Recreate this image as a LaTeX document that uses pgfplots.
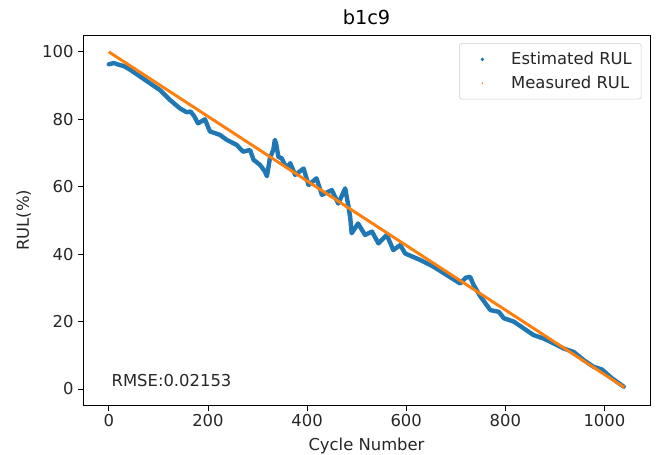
\documentclass[border=0pt]{standalone}
\usepackage{fontspec}
\setmainfont{DejaVu Sans}
\usepackage{pgfplots}
\pgfplotsset{compat=1.18}
\definecolor{mplblue}{HTML}{1F77B4}
\definecolor{mplorange}{HTML}{FF7F0E}
\begin{document}
\begin{tikzpicture}
\useasboundingbox (-62.25pt,-36.75pt) rectangle (430.25pt,304.25pt);
\begin{axis}[
  at={(0,0)}, anchor=south west,
  scale only axis, width=425pt, height=278pt,
  xmin=-52, xmax=1092, ymin=-5, ymax=105,
  xtick={0,200,400,600,800,1000},
  ytick={0,20,40,60,80,100},
  /pgf/number format/1000 sep={},
  tick align=outside, xtick pos=lower, ytick pos=left,
  major tick length=3.6pt,
  every tick/.style={black, line width=0.6pt},
  axis line style={black, line width=0.6pt},
  /pgf/number format/assume math mode=true,
  ticklabel style={font=\fontsize{12.3}{14}\selectfont, color=black!85},
  xticklabel style={yshift=1pt},
  xlabel={Cycle Number}, ylabel={RUL(\%)},
  label style={font=\fontsize{12.3}{14}\selectfont, color=black!85},
  xlabel style={yshift=-2pt},
  ylabel style={yshift=1.5pt},
  title={b1c9},
  title style={font=\fontsize{14.5}{16}\selectfont, yshift=-2pt},
  legend style={at={(0.985,0.978)}, anchor=north east, draw=black!20, rounded corners=2pt,
    font=\fontsize{12.3}{14}\selectfont, text=black!85, inner xsep=5pt, inner ysep=4.5pt,
    row sep=3pt},
  legend cell align=left,
]
\addlegendimage{legend image code/.code={\path[draw=none,fill=none] (0,-0.1cm) rectangle (1.12cm,0.1cm); \fill[mplblue, draw=none] (0.43cm,0cm) circle (1.4pt);}}
\addlegendentry{Estimated RUL}
\addlegendimage{legend image code/.code={\path[draw=none,fill=none] (0,-0.1cm) rectangle (1.12cm,0.1cm); \fill[mplorange, draw=none] (0.43cm,0cm) circle (0.7pt);}}
\addlegendentry{Measured RUL}
\addplot[forget plot, mplblue, line width=3.3pt, line cap=round, line join=round] coordinates {
(0,96.3) (10,96.7) (20,96.2) (30,95.8) (42,94.8) (63,92.7) (83,90.7) (103,88.7)
(123,85.8) (143,83.3) (157,82.1) (165,82.3) (172,81.0) (180,78.8) (194,80.0)
(204,76.4) (224,75.4) (238,73.9) (258,72.4) (271,70.4) (285,70.9) (292,68.0)
(305,66.5) (315,64.5) (319,63.1) (325,68.4) (332,71.0) (335,73.9) (338,72.5)
(342,68.9) (349,68.4) (355,66.5) (362,66.0) (366,67.0) (376,63.5) (393,65.4)
(403,60.5) (419,62.5) (430,57.6) (450,59.0) (463,55.0) (477,59.5) (483,54.6)
(487,51.0) (490,46.2) (503,49.1) (517,45.7) (531,46.7) (544,43.2) (561,45.7)
(574,41.2) (588,42.7) (598,40.2) (628,38.3) (655,36.3) (682,33.8) (709,31.3)
(720,33.0) (729,33.3) (736,30.9) (750,27.4) (770,23.4) (787,22.9) (797,21.0)
(817,20.0) (837,18.0) (857,16.0) (877,15.0) (898,13.5) (918,12.0) (938,11.0)
(958,8.6) (978,6.6) (995,5.8) (1015,3.2) (1039,0.7)
};
\addplot[forget plot, mplorange, line width=2.2pt] coordinates {(0,100) (1040,0.5)};
\node[anchor=south west, font=\fontsize{12.3}{14}\selectfont, text=black!85, inner sep=0pt]
  at (rel axis cs:0.05,0.05) {RMSE:0.02153};
\end{axis}
\end{tikzpicture}
\end{document}
